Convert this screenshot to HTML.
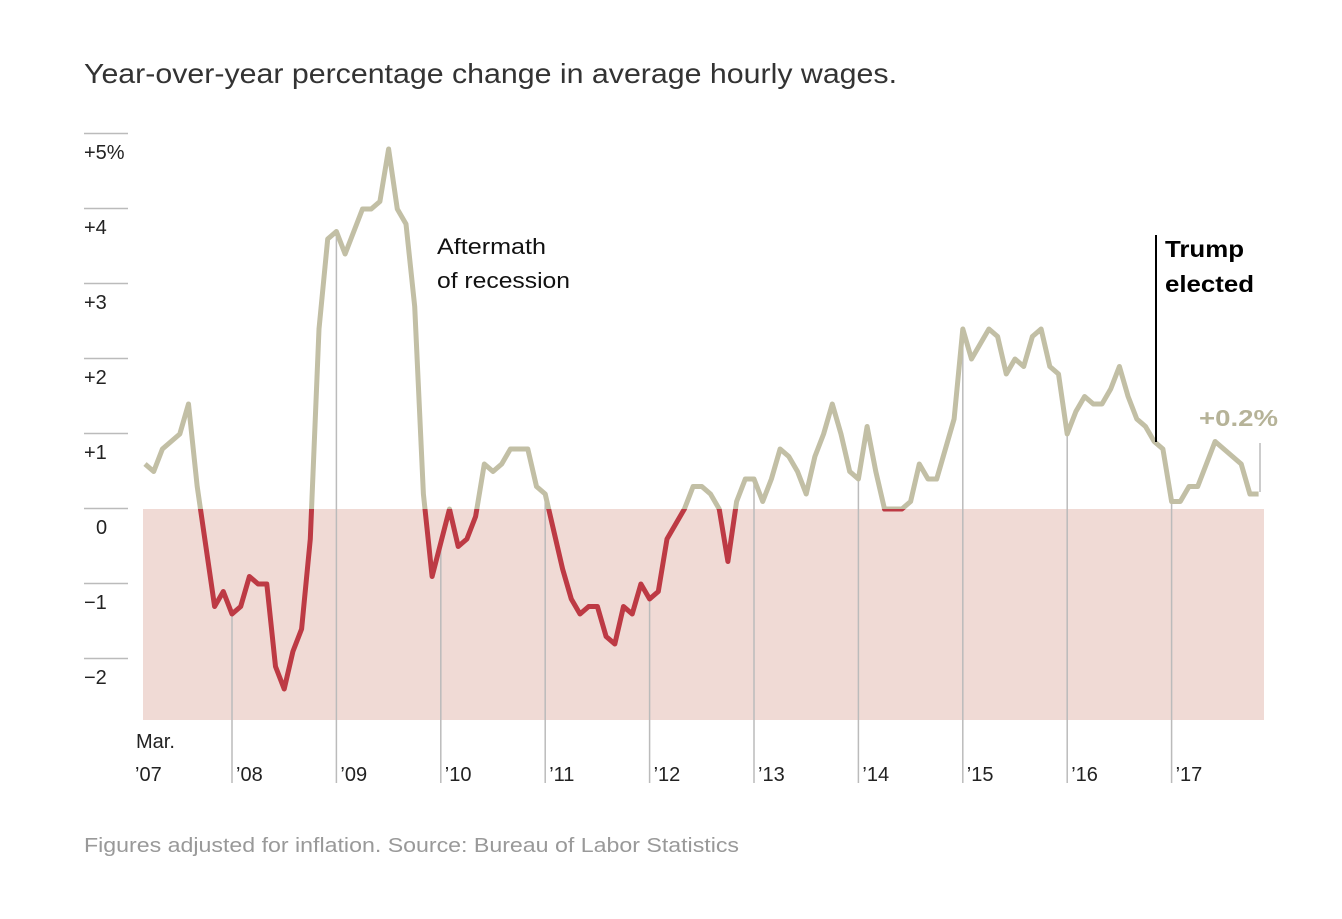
<!DOCTYPE html>
<html><head><meta charset="utf-8">
<style>
body{margin:0;background:#fff;}
svg text{font-family:"Liberation Sans",Arial,sans-serif;}
</style></head>
<body>
<svg id="chart" width="1342" height="914" viewBox="0 0 1342 914" xmlns="http://www.w3.org/2000/svg">
<text x="84" y="83" font-size="28" fill="#333" textLength="813" lengthAdjust="spacingAndGlyphs">Year-over-year percentage change in average hourly wages.</text>
<rect x="143" y="509" width="1121" height="211" fill="#f0dad5"/>
<g id="yaxis"></g>
<g id="jan-lines"></g>
<g id="xaxis"></g>
<defs>
<clipPath id="clipPos"><rect x="0" y="0" width="1342" height="509"/></clipPath>
<clipPath id="clipNeg"><rect x="0" y="509" width="1342" height="405"/></clipPath>
</defs>
<g id="series"></g>
<text x="437" y="254" font-size="22" fill="#111" textLength="109" lengthAdjust="spacingAndGlyphs">Aftermath</text>
<text x="437" y="288" font-size="22" fill="#111" textLength="133" lengthAdjust="spacingAndGlyphs">of recession</text>
<line x1="1156" y1="235" x2="1156" y2="442" stroke="#000" stroke-width="2"/>
<text x="1165" y="257" font-size="23" font-weight="bold" fill="#000" textLength="79" lengthAdjust="spacingAndGlyphs">Trump</text>
<text x="1165" y="292" font-size="23" font-weight="bold" fill="#000" textLength="89" lengthAdjust="spacingAndGlyphs">elected</text>
<text x="1199" y="426" font-size="23" font-weight="bold" fill="#b6b398" textLength="79" lengthAdjust="spacingAndGlyphs">+0.2%</text>
<line x1="1260" y1="443" x2="1260" y2="492" stroke="#bbb" stroke-width="1.5"/>
<text x="84" y="852" font-size="20" fill="#999" textLength="655" lengthAdjust="spacingAndGlyphs">Figures adjusted for inflation. Source: Bureau of Labor Statistics</text>
</svg>
<script>
const values = [0.6,0.5,0.8,0.9,1.0,1.4,0.3,-0.5,-1.3,-1.1,
-1.4,-1.3,-0.9,-1.0,-1.0,-2.1,-2.4,-1.9,-1.6,-0.4,2.4,3.6,
3.7,3.4,3.7,4.0,4.0,4.1,4.8,4.0,3.8,2.7,0.2,-0.9,
-0.45,0.0,-0.5,-0.4,-0.1,0.6,0.5,0.6,0.8,0.8,0.8,0.3,
0.2,-0.3,-0.8,-1.2,-1.4,-1.3,-1.3,-1.7,-1.8,-1.3,-1.4,-1.0,
-1.2,-1.1,-0.4,-0.2,0.0,0.3,0.3,0.2,0.0,-0.7,0.1,0.4,
0.4,0.1,0.4,0.8,0.7,0.5,0.2,0.7,1.0,1.4,1.0,0.5,
0.4,1.1,0.5,0.0,0.0,0.0,0.1,0.6,0.4,0.4,0.8,1.2,
2.4,2.0,2.2,2.4,2.3,1.8,2.0,1.9,2.3,2.4,1.9,1.8,
1.0,1.3,1.5,1.4,1.4,1.6,1.9,1.5,1.2,1.1,0.9,0.8,
0.1,0.1,0.3,0.3,0.6,0.9,0.8,0.7,0.6,0.2,0.2];
const yTicks = [5,4,3,2,1,0,-1,-2];
const yTickLabels = ["+5%","+4","+3","+2","+1","0","\u22121","\u22122"];
const yearLabels = ["\u201907","\u201908","\u201909","\u201910","\u201911","\u201912","\u201913","\u201914","\u201915","\u201916","\u201917"];
const startMonth = 2; // March 2007 (0 = Jan)

const NS="http://www.w3.org/2000/svg";
const X0=145, STEP=104.4/12;
function xScale(i){return X0+i*STEP;}
function yScale(v){return 509-v*75;}
function mk(tag,attrs,parent){const e=document.createElementNS(NS,tag);for(const k in attrs)e.setAttribute(k,attrs[k]);parent.appendChild(e);return e;}

const ya=document.getElementById('yaxis');
yTicks.forEach((t,k)=>{
  const y=yScale(t);
  const l=mk('line',{x1:84,x2:128,y1:y-0.5,y2:y-0.5,stroke:'#bbb','stroke-width':1.5},ya);
  
  
  const tx=mk('text',{x:t===0?96:84,y:y+25,'font-size':20,fill:'#222'},ya);
  tx.textContent=yTickLabels[k];
  
  
});

const jl=document.getElementById('jan-lines');
const xa=document.getElementById('xaxis');
yearLabels.forEach((lab,k)=>{
  let x, idx;
  if(k===0){x=135;}
  else{idx=12*k-startMonth; if(idx>=values.length) return; x=xScale(idx);
    const l=mk('line',{x1:x,x2:x,y1:yScale(values[idx]),y2:783,stroke:'#bbb','stroke-width':1.5},jl);
    
    
  }
  const tx=mk('text',{x:k===0?135:x+4,y:781,'font-size':20,fill:'#222'},xa);
  tx.textContent=lab;
  
  
});
const mar=mk('text',{x:136,y:748,'font-size':20,fill:'#222'},xa);
mar.textContent='Mar.';



const s=document.getElementById('series');
const d=values.map((v,i)=>(i?'L':'M')+xScale(i).toFixed(1)+','+yScale(v).toFixed(1)).join(' ');
const p1=mk('path',{d:d,fill:'none',stroke:'#c2bfa5','stroke-width':5,'stroke-linejoin':'round','clip-path':'url(#clipPos)'},s);


const p2=mk('path',{d:d,fill:'none',stroke:'#bd3a44','stroke-width':5,'stroke-linejoin':'round','clip-path':'url(#clipNeg)'},s);


</script>
</body></html>
